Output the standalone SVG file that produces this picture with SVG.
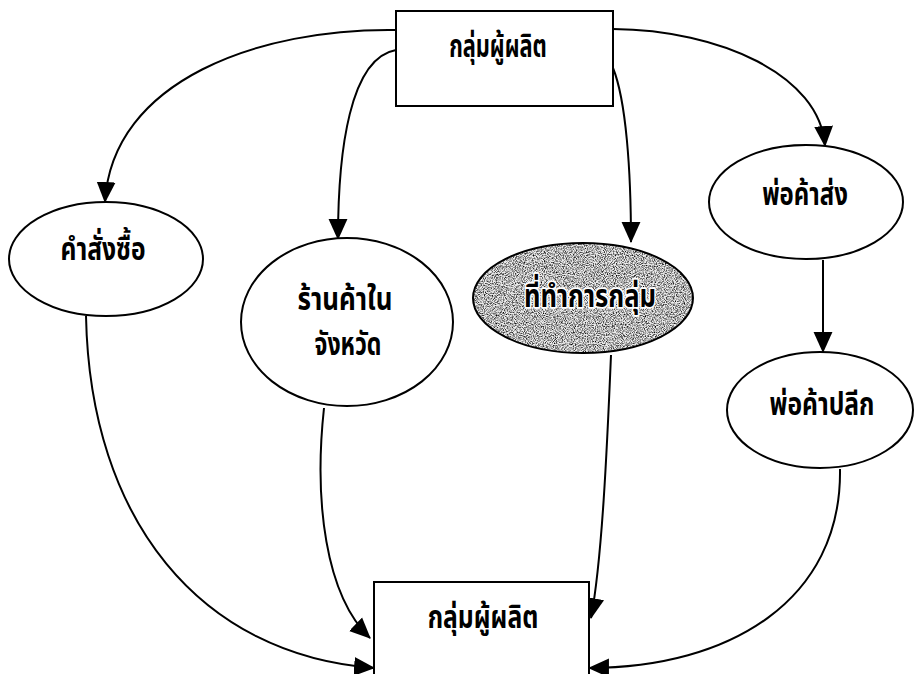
<svg xmlns="http://www.w3.org/2000/svg" width="914" height="674" viewBox="0 0 914 674">
<style>
  .box { fill: #fff; stroke: #000; stroke-width: 2; }
  .node { fill: #fff; stroke: #000; stroke-width: 2; }
  .edge { fill: none; stroke: #000; stroke-width: 2; }
  .lbl { font-family: "Noto Sans Thai", "Noto Sans", "DejaVu Sans", sans-serif; font-size: 22px; fill: #000; text-anchor: middle; font-weight: bold; }
  .halo { stroke: #fff; stroke-width: 2.5; paint-order: stroke; stroke-linejoin: round; }
</style>
<defs>
  <marker id="arr" markerUnits="userSpaceOnUse" markerWidth="21" markerHeight="21" viewBox="0 0 20 20" refX="19" refY="10" orient="auto">
    <path d="M0,1 L20,10 L0,19 Z" fill="#000"/>
  </marker>
  <filter id="grain" x="0%" y="0%" width="100%" height="100%">
    <feTurbulence type="fractalNoise" baseFrequency="0.9" numOctaves="2" seed="7" result="noise"/>
    <feColorMatrix in="noise" type="matrix" values="0 0 0 0 0  0 0 0 0 0  0 0 0 0 0  2.2 0 0 0 -0.85" result="dots"/>
    <feComposite in="dots" in2="SourceGraphic" operator="in"/>
  </filter>
</defs>
<rect width="914" height="674" fill="#fff"/>

<g id="connectors">
  <path class="edge" marker-end="url(#arr)" d="M396,30 C 260,28 112,80 105,202"/>
  <path class="edge" marker-end="url(#arr)" d="M396,50 C 350,58 338,150 338,239"/>
  <path class="edge" marker-end="url(#arr)" d="M613,68 C 626,100 631,170 631,242"/>
  <path class="edge" marker-end="url(#arr)" d="M613,29 C 720,30 820,75 825,146"/>
  <path class="edge" marker-end="url(#arr)" d="M823,260 L823,352"/>
  <path class="edge" marker-end="url(#arr)" d="M86,316 C 90,520 200,655 374,668"/>
  <path class="edge" marker-end="url(#arr)" d="M324,408 C 314,500 325,595 370,638"/>
  <path class="edge" marker-end="url(#arr)" d="M611,355 C 607,450 602,560 591,618"/>
  <path class="edge" marker-end="url(#arr)" d="M840,469 C 842,600 730,668 589,668"/>
</g>

<g id="producer-top">
  <rect class="box" x="396" y="11" width="217" height="95"/>
  <text class="lbl" transform="translate(498,57) scale(0.99,1.45)">กลุ่มผู้ผลิต</text>
</g>

<g id="purchase-order">
  <ellipse class="node" cx="106" cy="259" rx="97" ry="57"/>
  <text class="lbl" transform="translate(103,260) scale(1.12,1.45)">คำสั่งซื้อ</text>
</g>

<g id="provincial-shop">
  <ellipse class="node" cx="347" cy="322" rx="106" ry="84"/>
  <text class="lbl" transform="translate(345,310) scale(1.18,1.45)">ร้านค้าใน</text>
  <text class="lbl" transform="translate(348,355) scale(1.05,1.45)">จังหวัด</text>
</g>

<g id="group-office">
  <ellipse cx="583" cy="298" rx="110" ry="55" fill="#ececec"/>
  <ellipse cx="583" cy="298" rx="110" ry="55" fill="#000" filter="url(#grain)"/>
  <ellipse cx="583" cy="298" rx="110" ry="55" fill="none" stroke="#000" stroke-width="2"/>
  <text class="lbl halo" transform="translate(590,307) scale(1.16,1.45)">ที่ทำการกลุ่ม</text>
</g>

<g id="wholesaler">
  <ellipse class="node" cx="806" cy="202" rx="97" ry="57"/>
  <text class="lbl" transform="translate(805,205) scale(1.09,1.45)">พ่อค้าส่ง</text>
</g>

<g id="retailer">
  <ellipse class="node" cx="820" cy="410" rx="93" ry="58"/>
  <text class="lbl" transform="translate(822,415) scale(1.12,1.45)">พ่อค้าปลีก</text>
</g>

<g id="producer-bottom">
  <rect class="box" x="374" y="582" width="215" height="100"/>
  <text class="lbl" transform="translate(483,628) scale(1.12,1.45)">กลุ่มผู้ผลิต</text>
</g>
</svg>
